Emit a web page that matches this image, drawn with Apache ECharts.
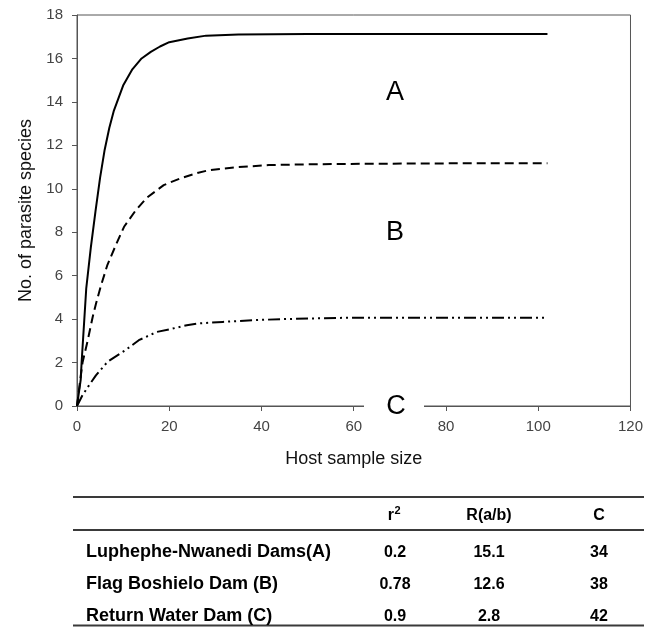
<!DOCTYPE html>
<html>
<head>
<meta charset="utf-8">
<script src="https://cdn.jsdelivr.net/npm/echarts@6/dist/echarts.min.js"></script>
<style>
html,body{margin:0;padding:0;background:#fff;}
#chart{width:646px;height:627px;}
</style>
</head>
<body>
<div id="chart"></div>
<script>
// Curve data: [host sample size, no. of parasite species]
var curveA = [[0,0],[0.8,1.2],[1,2.0],[2,5.4],[3,7.3],[4,8.95],[5,10.5],[6,11.8],[7,12.8],[8,13.6],[10,14.75],[12,15.5],[14,16.0],[16,16.3],[18,16.55],[20,16.75],[24,16.92],[28,17.05],[35,17.1],[50,17.12],[70,17.12],[102,17.12]];
var curveB = [[0,0],[0.7,1.2],[1.2,2.0],[2.3,3.0],[3.4,4.1],[4.1,4.7],[5.2,5.55],[6.6,6.5],[8.4,7.4],[10.2,8.25],[12.7,9.0],[15.2,9.6],[18.8,10.17],[22.4,10.48],[26.3,10.74],[28.7,10.86],[35,11.0],[41.6,11.09],[48,11.12],[56,11.14],[63,11.15],[80,11.17],[102,11.18]];
var curveC = [[0,0],[1.2,0.5],[2.6,0.95],[4.1,1.41],[6.6,2.03],[8,2.23],[10.5,2.57],[13.4,3.03],[17.3,3.41],[19.9,3.52],[23.8,3.72],[26.3,3.8],[31.6,3.87],[38,3.95],[44.5,4.0],[50.9,4.03],[58,4.06],[70,4.06],[85,4.06],[102,4.06]];
var curveLabels = ['A','B','C'];

// Table
var tableHeader = ['', 'r', 'R(a/b)', 'C'];
var headerSup = '2';
var siteNames = ['Luphephe-Nwanedi Dams(A)', 'Flag Boshielo Dam (B)', 'Return Water Dam (C)'];
var r2Values = ['0.2', '0.78', '0.9'];
var rabValues = ['15.1', '12.6', '2.8'];
var cValues = ['34', '38', '42'];

var FONT = '"Liberation Sans", Arial, sans-serif';
var chart = echarts.init(document.getElementById('chart'), null, {renderer:'canvas'});

var graphics = [];
// A, B, C labels
var labelPos = [[395,93],[395,233],[396,407]];
graphics.push({type:'rect', shape:{x:364, y:398, width:60, height:18}, style:{fill:'#fff'}, z:100});
curveLabels.forEach(function(l, i){
  graphics.push({type:'text', x:labelPos[i][0], y:labelPos[i][1], z:101,
    style:{text:l, fontSize:27, fontFamily:FONT, fill:'#000', align:'center', verticalAlign:'middle'}});
});
// table rules
[[497,2],[530,2],[625.5,2]].forEach(function(r){
  graphics.push({type:'line', shape:{x1:73, y1:r[0], x2:644, y2:r[0]}, style:{stroke:'#3a3a3a', lineWidth:r[1]}, z:100});
});
var colX = [86, 395, 489, 599];
for (var c = 1; c < 4; c++) {
  graphics.push({type:'text', x:(c === 1 ? colX[c] - 1 : colX[c]), y:516, z:100,
    style:{text:tableHeader[c], fontSize:16, fontWeight:'bold', fontFamily:FONT, fill:'#000', align:(c === 1 ? 'right' : 'center'), verticalAlign:'middle'}});
}
graphics.push({type:'text', x:colX[1] - 0.5, y:511, z:100,
  style:{text:headerSup, fontSize:11, fontWeight:'bold', fontFamily:FONT, fill:'#000', align:'left', verticalAlign:'middle'}});
var rowY = [552, 584, 616];
for (var r = 0; r < siteNames.length; r++) {
  graphics.push({type:'text', x:colX[0], y:rowY[r], z:100,
    style:{text:siteNames[r], fontSize:18, fontWeight:'bold', fontFamily:FONT, fill:'#000', align:'left', verticalAlign:'middle'}});
  [r2Values[r], rabValues[r], cValues[r]].forEach(function(v, k){
    graphics.push({type:'text', x:colX[k+1], y:rowY[r]+1, z:100,
      style:{text:v, fontSize:16, fontWeight:'bold', fontFamily:FONT, fill:'#000', align:'center', verticalAlign:'middle'}});
  });
}

var axisCommon = {
  axisLine:{show:true, lineStyle:{color:'#555', width:1}},
  axisTick:{show:true, inside:false, length:5, lineStyle:{color:'#555'}},
  splitLine:{show:false},
  nameTextStyle:{fontSize:18, fontFamily:FONT, color:'#111'}
};

chart.setOption({
  animation:false,
  backgroundColor:'#fff',
  grid:{left:77, top:15, width:558, height:391, show:true, borderColor:'#555', borderWidth:1, containLabel:false},
  xAxis:Object.assign({}, axisCommon, {
    type:'value', min:0, max:120, interval:20,
    name:'Host sample size', nameLocation:'middle', nameGap:44,
    axisLabel:{fontSize:15, fontFamily:FONT, color:'#444', margin:13}
  }),
  yAxis:Object.assign({}, axisCommon, {
    type:'value', min:0, max:18, interval:2,
    name:'No. of parasite species', nameLocation:'middle', nameGap:41, nameRotate:90,
    axisLabel:{fontSize:15, fontFamily:FONT, color:'#444', margin:14}
  }),
  series:[
    {type:'line', name:'A', data:curveA, showSymbol:false, smooth:false,
     lineStyle:{color:'#000', width:2, type:'solid', join:'round'}},
    {type:'line', name:'B', data:curveB, showSymbol:false, smooth:false,
     lineStyle:{color:'#000', width:2, type:[9,5]}},
    {type:'line', name:'C', data:curveC, showSymbol:false, smooth:false,
     lineStyle:{color:'#000', width:2, type:[12,4,2,4,2,4]}}
  ],
  graphic:graphics
});
</script>
</body>
</html>
